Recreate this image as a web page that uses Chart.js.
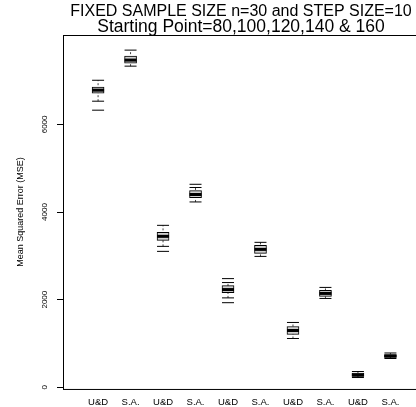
<!DOCTYPE html>
<html>
<head>
<meta charset="utf-8">
<script src="https://cdn.jsdelivr.net/npm/chart.js@4.4.0/dist/chart.umd.min.js"></script>
<style>
  html, body { margin: 0; padding: 0; background: #fff; overflow: hidden; }
</style>
</head>
<body>
<canvas id="plot" width="421" height="407"></canvas>
<script>
// box statistics, one entry per box
var groups = ['U&D', 'S.A.', 'U&D', 'S.A.', 'U&D', 'S.A.', 'U&D', 'S.A.', 'U&D', 'S.A.'];
var whiskerLow  = [6530, 7330, 3216, 4230, 2040, 2987, 1113, 2027, 222, 656];
var lowerQ      = [6713, 7399, 3353, 4330, 2160, 3056, 1205, 2073, 245, 679];
var medians     = [6782, 7468, 3445, 4400, 2230, 3147, 1296, 2142, 279, 713];
var upperQ      = [6850, 7559, 3536, 4490, 2320, 3239, 1387, 2210, 325, 747];
var whiskerHigh = [7008, 7696, 3696, 4560, 2390, 3308, 1479, 2279, 359, 782];
var outliers    = [[6325], [], [3102], [4633], [2480, 1930], [], [], [], [], []];
var yTicks = [0, 2000, 4000, 6000];

var font = 'Liberation Sans, Arial, Helvetica, sans-serif';

var boxData = lowerQ.map(function (v, i) { return { x: i + 1, y: [v, upperQ[i]] }; });
var whiskerData = [];
var capData = [];
var outData = [];
groups.forEach(function (g, i) {
    whiskerData.push({ x: i + 1, y: whiskerLow[i] }, { x: i + 1, y: whiskerHigh[i] }, { x: i + 1, y: null });
    capData.push({ x: i + 1, y: whiskerLow[i] }, { x: i + 1, y: whiskerHigh[i] });
    outliers[i].forEach(function (v) { outData.push({ x: i + 1, y: v }); });
});
var medianData = medians.map(function (v, i) { return { x: i + 1, y: v }; });

var frame = {
    id: 'frame',
    afterDatasetsDraw: function (chart) {
        var a = chart.chartArea, c = chart.ctx;
        c.save();
        c.strokeStyle = '#000';
        c.lineWidth = 1;
        c.strokeRect(Math.round(a.left) + 0.5, Math.round(a.top) + 0.5, a.right - a.left, a.bottom - a.top);
        c.restore();
    }
};

new Chart(document.getElementById('plot'), {
    type: 'bar',
    data: {
        datasets: [
            {
                type: 'line', data: whiskerData, order: 3,
                borderColor: '#444', borderWidth: 1, borderDash: [2, 2],
                pointRadius: 0, spanGaps: false
            },
            {
                type: 'bar', data: boxData, order: 2,
                backgroundColor: '#d0d0d0', borderColor: '#000', borderWidth: 1,
                borderSkipped: false, barThickness: 12
            },
            {
                type: 'scatter', data: capData, order: 1,
                pointStyle: 'line', pointRadius: 6, borderColor: '#000', borderWidth: 1
            },
            {
                type: 'scatter', data: outData, order: 1,
                pointStyle: 'line', pointRadius: 6, borderColor: '#000', borderWidth: 1
            },
            {
                type: 'scatter', data: medianData, order: 0,
                pointStyle: 'line', pointRadius: 6, borderColor: '#000', borderWidth: 3
            }
        ]
    },
    options: {
        responsive: false,
        animation: false,
        layout: { autoPadding: false, padding: { left: 0, right: 2, top: 0, bottom: 0 } },
        plugins: {
            legend: { display: false },
            tooltip: { enabled: false },
            title: {
                display: true,
                fullSize: false,
                text: 'FIXED SAMPLE SIZE n=30 and STEP SIZE=10',
                color: '#000',
                font: { family: font, size: 16, weight: 'normal', lineHeight: 1 },
                padding: { top: 4, bottom: 0 }
            },
            subtitle: {
                display: true,
                fullSize: false,
                text: 'Starting Point=80,100,120,140 & 160',
                color: '#000',
                font: { family: font, size: 17.5, weight: 'normal', lineHeight: 0.86 },
                padding: { top: 0, bottom: 0 }
            }
        },
        scales: {
            x: {
                type: 'linear',
                offset: false,
                min: -0.08,
                max: 10.88,
                afterFit: function (s) { s.height = 18; s.paddingLeft = 0; s.paddingRight = 0; },
                afterBuildTicks: function (s) {
                    s.ticks = groups.map(function (g, i) { return { value: i + 1 }; });
                },
                grid: { display: false, drawTicks: false },
                border: { display: false },
                ticks: {
                    autoSkip: false, maxRotation: 0, padding: 8,
                    color: '#000',
                    font: { family: font, size: 9.5 },
                    callback: function (v) { return groups[v - 1]; }
                }
            },
            y: {
                min: -40,
                max: 8040,
                afterFit: function (s) { s.width = 63; s.paddingTop = 0; s.paddingBottom = 0; },
                afterBuildTicks: function (s) {
                    s.ticks = yTicks.map(function (v) { return { value: v }; });
                },
                grid: { drawOnChartArea: false, drawTicks: true, tickLength: 6, color: '#000' },
                border: { display: false },
                ticks: {
                    minRotation: 90, maxRotation: 90, crossAlign: 'center', padding: 3,
                    color: '#000',
                    font: { family: font, size: 8 },
                    callback: function (v) { return String(v); }
                },
                title: {
                    display: true,
                    text: 'Mean Squared Error (MSE)',
                    color: '#000',
                    font: { family: font, size: 9 },
                    padding: { top: 15, bottom: 0 }
                }
            }
        }
    },
    plugins: [frame]
});
</script>
</body>
</html>
